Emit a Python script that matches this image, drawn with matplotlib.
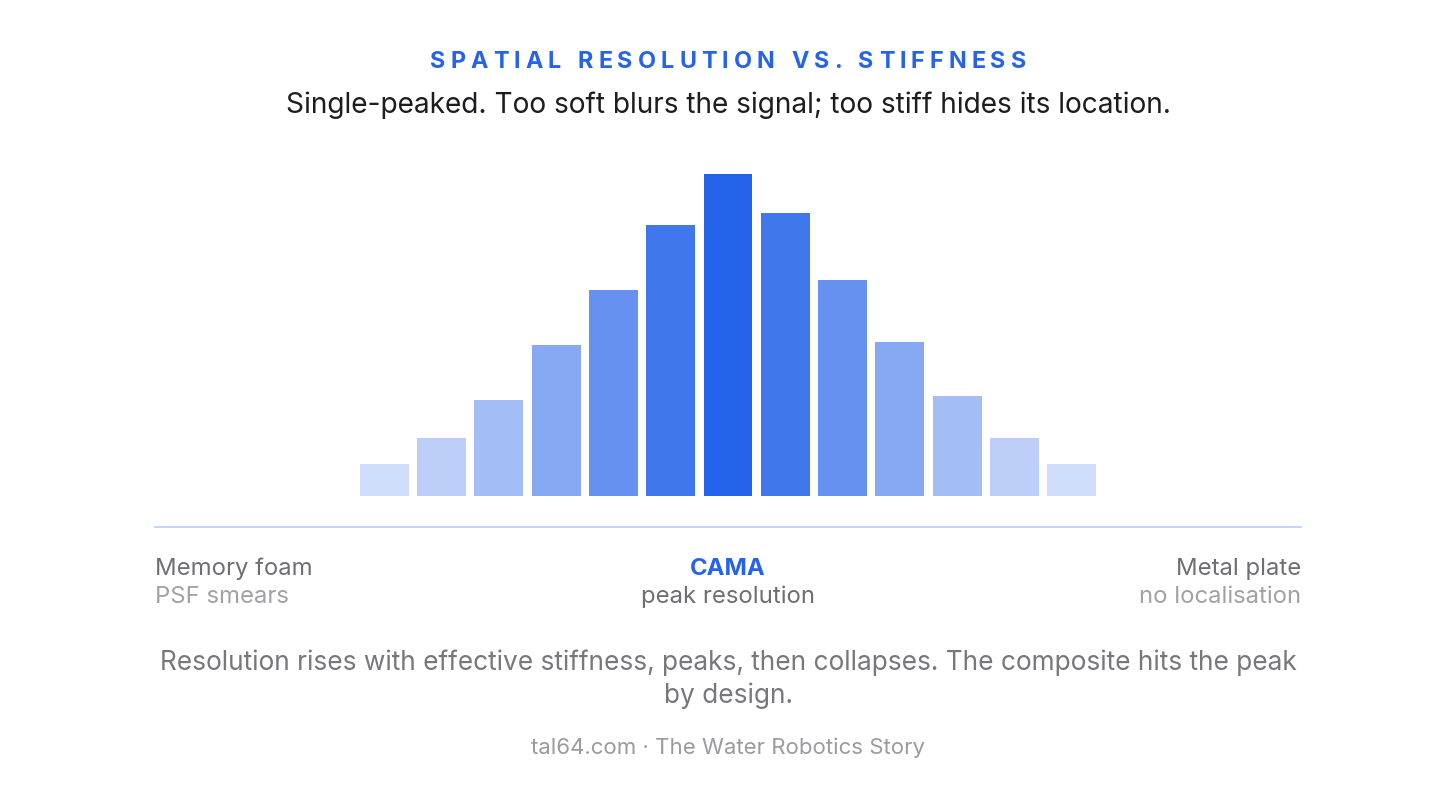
import numpy as np
import matplotlib.pyplot as plt
from matplotlib.colors import to_rgba

# bar heights (peak = 100)
stiffness_idx = np.arange(13)
resolution = [10, 18, 30, 47, 64, 84, 100, 88, 67, 48, 31, 18, 10]
bar_alpha = [0.22, 0.30, 0.42, 0.55, 0.70, 0.87, 1.0, 0.87, 0.70, 0.55, 0.42, 0.30, 0.22]

title = "SPATIAL RESOLUTION VS. STIFFNESS"
subtitle = "Single-peaked. Too soft blurs the signal; too stiff hides its location."
left_lbl = ("Memory foam", "PSF smears")
mid_lbl = ("CAMA", "peak resolution")
right_lbl = ("Metal plate", "no localisation")
caption = ("Resolution rises with effective stiffness, peaks, then collapses. The composite hits the peak\n"
           "by design.")
footer = "tal64.com \u00b7 The Water Robotics Story"

BLUE = "#2563EB"
plt.rcParams['font.family'] = ['Inter', 'DejaVu Sans']

W, H = 1456, 806
fig = plt.figure(figsize=(W / 100, H / 100), dpi=100)

def fx(px):
    return px / W

def fy(py):
    return 1 - py / H

# axes: x 155..1301 px, y 160..527 px
ax = fig.add_axes([fx(155), fy(527), fx(1301) - fx(155), fy(160) - fy(527)])
colors = [to_rgba(BLUE, a) for a in bar_alpha]
ax.bar(stiffness_idx, resolution, width=0.855, color=colors, linewidth=0)
ax.set_xlim(-4, 16)
ax.set_ylim(-9.46, 104.3)
for s in ['top', 'right', 'left']:
    ax.spines[s].set_visible(False)
ax.spines['bottom'].set_color("#BFD3F7")
ax.spines['bottom'].set_linewidth(1.3)
ax.set_xticks([])
ax.set_yticks([])

# title with letter spacing, drawn char by char
renderer = fig.canvas.get_renderer()
tsize = 16.8
widths = []
for ch in title:
    t = fig.text(0, 0, ch if ch != ' ' else 'I', fontsize=tsize, fontweight='bold')
    widths.append(t.get_window_extent(renderer).width)
    t.remove()
spacing_px = (596 - sum(widths)) / (len(title) - 1)
x0 = 728 - 596 / 2
for ch, w in zip(title, widths):
    if ch != ' ':
        fig.text(fx(x0), fy(62), ch, fontsize=tsize, fontweight='bold', color=BLUE,
                 ha='left', va='center')
    x0 += w + spacing_px

fig.text(fx(728), fy(105), subtitle, fontsize=20.2, color="#1d1d1f", ha='center', va='center')

# end labels
lsize = 17.2
fig.text(fx(155), fy(569), left_lbl[0], fontsize=lsize, color="#6e6e73", ha='left', va='center')
fig.text(fx(155), fy(597), left_lbl[1], fontsize=lsize, color="#a1a1a6", ha='left', va='center')
fig.text(fx(728), fy(569), mid_lbl[0], fontsize=lsize, color=BLUE, fontweight='bold', ha='center', va='center')
fig.text(fx(728), fy(597), mid_lbl[1], fontsize=lsize, color="#6e6e73", ha='center', va='center')
fig.text(fx(1301), fy(569), right_lbl[0], fontsize=lsize, color="#6e6e73", ha='right', va='center')
fig.text(fx(1301), fy(597), right_lbl[1], fontsize=lsize, color="#a1a1a6", ha='right', va='center')

fig.text(fx(728), fy(679), caption, fontsize=18.9, color="#77777c", ha='center', va='center',
         linespacing=1.32)
fig.text(fx(728), fy(748), footer, fontsize=16, color="#9a9aa0", ha='center', va='center')

fig.savefig("out.png", dpi=100)
